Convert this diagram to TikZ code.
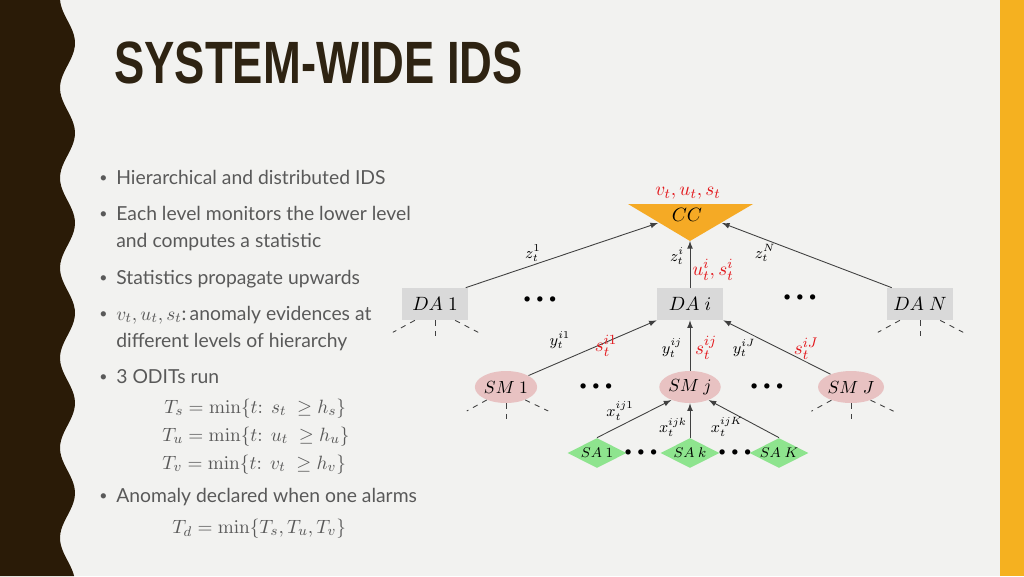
\documentclass[tikz,border=0pt]{standalone}
\usepackage[no-math]{fontspec}
\setmainfont{Lato}
\newfontfamily\titrefont{Liberation Sans}
\usetikzlibrary{shapes.geometric}

\definecolor{fond}{HTML}{F2F2F0}
\definecolor{brun}{HTML}{2A1B07}
\definecolor{titre}{HTML}{2E2312}
\definecolor{orangeB}{HTML}{F5B120}
\definecolor{orangeCC}{HTML}{F5AA25}
\definecolor{grisDA}{HTML}{D9D9D9}
\definecolor{rose}{HTML}{E8C2C2}
\definecolor{vert}{HTML}{8EE48E}
\definecolor{rougeS}{HTML}{E3161B}
\definecolor{grisT}{HTML}{595959}
\definecolor{trait}{HTML}{404040}

\begin{document}
\begin{tikzpicture}[x=0.02cm,y=-0.02cm]
\tikzset{boite/.style={fill=grisDA, minimum width=1.32cm, minimum height=0.64cm, inner sep=0pt, font=\fontsize{11}{13}\selectfont},
ovale/.style={ellipse, fill=rose, minimum width=1.14cm, minimum height=0.64cm, inner sep=0pt, font=\fontsize{10}{12}\selectfont},
losange/.style={diamond, aspect=2, fill=vert, minimum width=1.18cm, minimum height=0.6cm, inner sep=0pt, font=\fontsize{8}{9}\selectfont},
fleche/.style={-latex, draw=trait, line width=0.5pt},
tiret/.style={dashed, draw=trait, line width=0.5pt},
etiq/.style={inner sep=0pt, font=\fontsize{9}{10}\selectfont},
rouge/.style={inner sep=0pt, text=rougeS, font=\fontsize{11}{12}\selectfont},
points/.style={inner sep=0pt, font=\fontsize{7.5}{8}\selectfont},
puce/.style={anchor=base west, inner sep=0pt, text=grisT, font=\fontsize{8}{9}\selectfont},
texte/.style={anchor=base west, inner sep=0pt, text=grisT, font=\fontsize{11}{13}\selectfont}}
\useasboundingbox (0,0) rectangle (1024,576);
% fond de la diapo
\fill[fond] (0,0) rectangle (1024,576);
\fill[orangeB] (1000,0) rectangle (1024,576);
\fill[brun] (0,0) -- plot[domain=0:576, samples=150] ({67.5+7.5*cos(4*(\x-43))}, \x) -- (0,576) -- cycle;
\node[anchor=base west, inner sep=0pt, text=titre] (titre) at (114,83) {\scalebox{0.76}[1]{\titrefont\bfseries\fontsize{34}{36}\selectfont SYSTEM-WIDE IDS}};

% texte
\node[puce] (p1) at (99,182) {\textbullet};
\node[texte] (t1) at (116,184) {Hierarchical and distributed IDS};
\node[puce] (p2) at (99,218) {\textbullet};
\node[texte] (t2) at (116,220) {Each level monitors the lower level};
\node[texte] (t2b) at (116,247) {and computes a statistic};
\node[puce] (p3) at (99,282) {\textbullet};
\node[texte] (t3) at (116,284) {Statistics propagate upwards};
\node[puce] (p4) at (99,318) {\textbullet};
\node[texte] (t4) at (116,320) {$v_t, u_t, s_t$:\,anomaly evidences at};
\node[texte] (t4b) at (116,347) {different levels of hierarchy};
\node[puce] (p5) at (99,381) {\textbullet};
\node[texte] (t5) at (116,383) {3 ODITs run};
\node[texte] (eqs) at (164,413) {$T_s=\min\{t\colon\ s_t\;\geq h_s\}$};
\node[texte] (equ) at (162,441) {$T_u=\min\{t\colon\ u_t\;\geq h_u\}$};
\node[texte] (eqv) at (162,469) {$T_v=\min\{t\colon\ v_t\;\geq h_v\}$};
\node[puce] (p6) at (99,500) {\textbullet};
\node[texte] (t6) at (116,502) {Anomaly declared when one alarms};
\node[texte] (eqd) at (172,533) {$T_d=\min\{T_s,T_u,T_v\}$};

% CC
\coordinate (CCg) at (628,204);
\coordinate (CCd) at (753,204);
\coordinate (CCb) at (690,241);
\coordinate (CCmg) at (658,223);
\coordinate (CCmd) at (722,223);
\fill[orangeCC] (CCg) -- (CCd) -- (CCb) -- cycle;
\node[inner sep=0pt, font=\fontsize{11}{13}\selectfont] (CC) at (687,215) {$CC$};
\node[rouge] (lCC) at (688,193) {$v_t, u_t, s_t$};

% DA
\node[boite] (DA1) at (435,304) {$DA~1$};
\node[boite] (DAi) at (690,304) {$DA~i$};
\node[boite] (DAN) at (920,304) {$DA~N$};
\node[points] (d1) at (540,300) {$\bullet\,\bullet\,\bullet$};
\node[points] (d2) at (800,298) {$\bullet\,\bullet\,\bullet$};

% SM
\node[ovale] (SM1) at (506,387) {$SM~1$};
\node[ovale] (SMj) at (690,387) {$SM~j$};
\node[ovale] (SMJ) at (851,387) {$SM~J$};
\node[points] (d3) at (596,387) {$\bullet\,\bullet\,\bullet$};
\node[points] (d4) at (767,387) {$\bullet\,\bullet\,\bullet$};

% SA
\node[losange] (SA1) at (597,453) {$SA~1$};
\node[losange] (SAk) at (690,453) {$SA~k$};
\node[losange] (SAK) at (779,453) {$SA~K$};
\node[points] (d5) at (641,453) {$\bullet\,\bullet\,\bullet$};
\node[points] (d6) at (735,453) {$\bullet\,\bullet\,\bullet$};

% fleches
\draw[fleche] (DA1.28) -- (CCmg);
\draw[fleche] (DAi.north) -- (CCb);
\draw[fleche] (DAN.150) -- (CCmd);
\draw[fleche] (SM1.27) -- (DAi.south west);
\draw[fleche] (SMj.north) -- (DAi.south);
\draw[fleche] (SMJ.148) -- (DAi.south east);
\draw[fleche] (SA1.north) -- (SMj.215);
\draw[fleche] (SAk.north) -- (SMj.south);
\draw[fleche] (SAK.north) -- (SMj.325);

\foreach \n in {DA1,DAN} {
  \draw[tiret] (\n.219) -- ++(-22,12);
  \draw[tiret] (\n.south) -- ++(0,20);
  \draw[tiret] (\n.321) -- ++(23,12);
}
\foreach \n in {SM1,SMJ} {
  \draw[tiret] (\n.214) -- ++(-20,11);
  \draw[tiret] (\n.south) -- ++(0,16);
  \draw[tiret] (\n.326) -- ++(23,11);
}

% etiquettes
\node[etiq] (lz1) at (533,253) {$z_t^1$};
\node[etiq] (lzi) at (677,256) {$z_t^i$};
\node[etiq] (lzN) at (765,253) {$z_t^N$};
\node[rouge] (lui) at (713,270) {$u_t^i, s_t^i$};
\node[etiq] (ly1) at (560,340) {$y_t^{i1}$};
\node[rouge] (ls1) at (606,346) {$s_t^{i1}$};
\node[etiq] (lyj) at (672,348) {$y_t^{ij}$};
\node[rouge] (lsj) at (706,348) {$s_t^{ij}$};
\node[etiq] (lyJ) at (744,348) {$y_t^{iJ}$};
\node[rouge] (lsJ) at (806,349) {$s_t^{iJ}$};
\node[etiq] (lx1) at (620,411) {$x_t^{ij1}$};
\node[etiq] (lxk) at (673,427) {$x_t^{ijk}$};
\node[etiq] (lxK) at (727,427) {$x_t^{ijK}$};
\end{tikzpicture}
\end{document}
